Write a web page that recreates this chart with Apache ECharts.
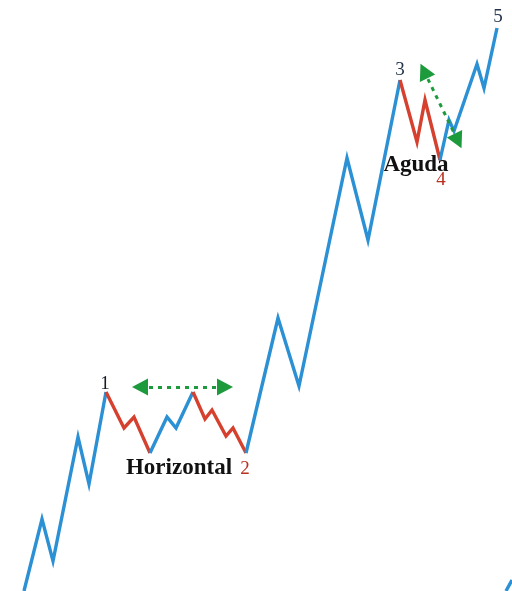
<!DOCTYPE html>
<html>
<head>
<meta charset="utf-8">
<script src="https://cdn.jsdelivr.net/npm/echarts@6/dist/echarts.min.js"></script>
<style>
html,body{margin:0;padding:0;background:#fff;}
#chart{width:512px;height:591px;}
</style>
</head>
<body>
<div id="chart"></div>
<script>
// Wave segments: [x, price]
const impulse1 = [[24,0],[42,72],[53,30],[78,154],[89,107],[106,199]];
const correction2a = [[106,199],[124,163],[134,174],[150,138]];
const correction2b = [[150,138],[167,174],[176,163],[193,199]];
const correction2c = [[193,199],[205,172],[212,181],[226,155],[233,163],[246,138]];
const impulse3 = [[246,138],[278,273],[299,205],[347,433],[368,351],[400,511]];
const correction4 = [[400,511],[417,449],[425,491],[440,431]];
const impulse5 = [[440,431],[449,471],[454,460],[477,527],[484,503],[497,563]];
const nextWave = [[506,0],[512,11]];

// Arrows: [from, to]
const horizontalArrow = [[140,204],[225,204]];
const sharpArrow = [[424,520],[458,450]];

// Labels: [x, price, text]
const waveNumbers = [[105,207,'1'],[245,122,'2'],[400,521,'3'],[441,411,'4'],[498,574,'5']];
const numberColors = ['#141c28','#b8301f','#24344a','#b8301f','#24344a'];
const patternNames = [[179,123,'Horizontal'],[416,426,'Aguda']];

const BLUE = '#2b90d4', RED = '#d5412e', GREEN = '#1c9a3c';

function lineSeries(data, color){
  return {type:'line', data:data, symbol:'none', silent:true,
    lineStyle:{color:color, width:3.4, join:'miter'}, z:4};
}

const series = [
  lineSeries(impulse1, BLUE),
  lineSeries(correction2a, RED),
  lineSeries(correction2b, BLUE),
  lineSeries(correction2c, RED),
  lineSeries(impulse3, BLUE),
  lineSeries(correction4, RED),
  lineSeries(impulse5, BLUE),
  lineSeries(nextWave, BLUE),
  {
    type:'line', data:[], silent:true,
    markLine:{
      silent:true, symbol:['triangle','triangle'], symbolSize:[17,16],
      label:{show:false},
      lineStyle:{color:GREEN, width:3, type:[4,5], opacity:1},
      itemStyle:{color:GREEN},
      emphasis:{disabled:true},
      data:[
        [{coord:horizontalArrow[0]},{coord:horizontalArrow[1]}],
        [{coord:sharpArrow[0]},{coord:sharpArrow[1]}]
      ]
    }, z:2
  },
  {
    type:'scatter', symbolSize:0, silent:true, z:3,
    itemStyle:{opacity:1},
    data: waveNumbers.map((d,i)=>({value:[d[0],d[1]], label:{show:true, formatter:d[2], color:numberColors[i]}})),
    label:{show:true, position:'inside', fontFamily:'"Liberation Serif", serif', fontSize:19}
  },
  {
    type:'scatter', symbolSize:0, silent:true, z:3,
    itemStyle:{opacity:1},
    data: patternNames.map(d=>({value:[d[0],d[1]], label:{show:true, formatter:d[2]}})),
    label:{show:true, position:'inside', fontFamily:'"Liberation Serif", serif', fontWeight:'bold', fontSize:23, color:'#111111'}
  }
];

const chart = echarts.init(document.getElementById('chart'));
chart.setOption({
  animation:false,
  backgroundColor:'#ffffff',
  grid:{left:0,right:0,top:0,bottom:0},
  xAxis:{type:'value', min:0, max:512, show:false},
  yAxis:{type:'value', min:0, max:591, show:false},
  series:series
});
</script>
</body>
</html>
